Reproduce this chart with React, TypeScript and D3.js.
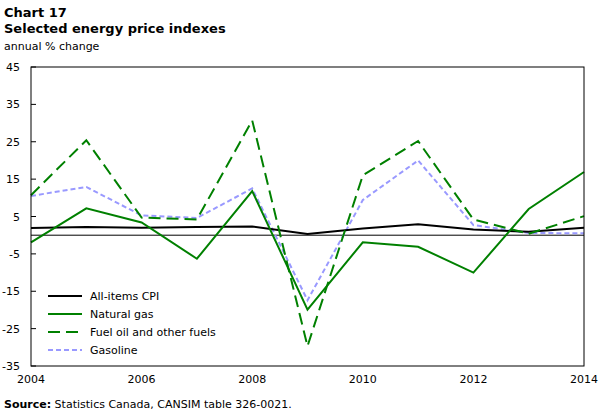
import React from 'react';
import * as d3 from 'd3';

// annual % change, 2004-2014
const years = [2004, 2005, 2006, 2007, 2008, 2009, 2010, 2011, 2012, 2013, 2014];
const cpi = [1.9, 2.2, 2.0, 2.2, 2.3, 0.3, 1.8, 2.9, 1.5, 0.9, 2.0];
const naturalGas = [-1.9, 7.2, 3.4, -6.3, 11.8, -19.9, -1.9, -3.1, -10.0, 7.0, 16.9];
const fuelOil = [10.7, 25.4, 4.7, 4.2, 30.7, -29.7, 16.0, 25.2, 4.2, 0.4, 5.1];
const gasoline = [10.5, 12.9, 5.3, 4.6, 12.5, -17.4, 9.4, 20.0, 2.7, 0.6, 0.5];

const yTicks = [45, 35, 25, 15, 5, -5, -15, -25, -35];
const xTicks = [2004, 2006, 2008, 2010, 2012, 2014];

const series = [
  { name: 'All-items CPI', values: cpi, color: '#000000', dash: null },
  { name: 'Natural gas', values: naturalGas, color: '#008000', dash: null },
  { name: 'Fuel oil and other fuels', values: fuelOil, color: '#008000', dash: '12,6' },
  { name: 'Gasoline', values: gasoline, color: '#9999ff', dash: '5,3' },
];

const W = 605;
const H = 417;
const margin = { top: 67, right: 21, bottom: 51, left: 31 };
const font = '"DejaVu Sans", Verdana, sans-serif';

export default function App() {
  const x = d3.scaleLinear().domain([2004, 2014]).range([margin.left, W - margin.right]);
  const y = d3.scaleLinear().domain([-35, 45]).range([H - margin.bottom, margin.top]);
  const line = d3
    .line<number>()
    .x((_, i) => x(years[i]))
    .y(d => y(d));

  // gasoline drawn first so it sits underneath
  const drawOrder = [series[3], series[0], series[1], series[2]];

  return (
    <svg
      width={W}
      height={H}
      style={{ position: 'fixed', left: 0, top: 0, background: '#fff', fontFamily: font }}
    >
      <text x={4} y={17} fontSize={13} fontWeight="bold">Chart 17</text>
      <text x={4} y={33} fontSize={13} fontWeight="bold">Selected energy price indexes</text>
      <text x={4} y={50} fontSize={11}>annual % change</text>

      {yTicks.map(t => (
        <g key={t}>
          <line x1={x(2004)} x2={x(2004) + 5} y1={y(t)} y2={y(t)} stroke="#000" />
          <text x={20} y={y(t) + 4} fontSize={11} textAnchor="end">{t}</text>
        </g>
      ))}
      {xTicks.map(t => (
        <text key={t} x={x(t)} y={383} fontSize={11} textAnchor="middle">{t}</text>
      ))}

      <line x1={x(2004)} x2={x(2014)} y1={y(0)} y2={y(0)} stroke="#000" strokeWidth={1} />

      {drawOrder.map(s => (
        <path
          key={s.name}
          d={line(s.values) || ''}
          fill="none"
          stroke={s.color}
          strokeWidth={2}
          strokeDasharray={s.dash || undefined}
        />
      ))}

      <rect
        x={x(2004)}
        y={y(45)}
        width={x(2014) - x(2004)}
        height={y(-35) - y(45)}
        fill="none"
        stroke="#000"
        strokeWidth={1}
      />

      {series.map((s, i) => (
        <g key={s.name} transform={`translate(48,${296 + i * 18})`}>
          <line x1={0} x2={34} y1={0} y2={0} stroke={s.color} strokeWidth={2}
            strokeDasharray={s.dash || undefined} />
          <text x={42} y={4} fontSize={11}>{s.name}</text>
        </g>
      ))}

      <text x={4} y={408} fontSize={11}>
        <tspan fontWeight="bold">Source:</tspan> Statistics Canada, CANSIM table 326-0021.
      </text>
    </svg>
  );
}
